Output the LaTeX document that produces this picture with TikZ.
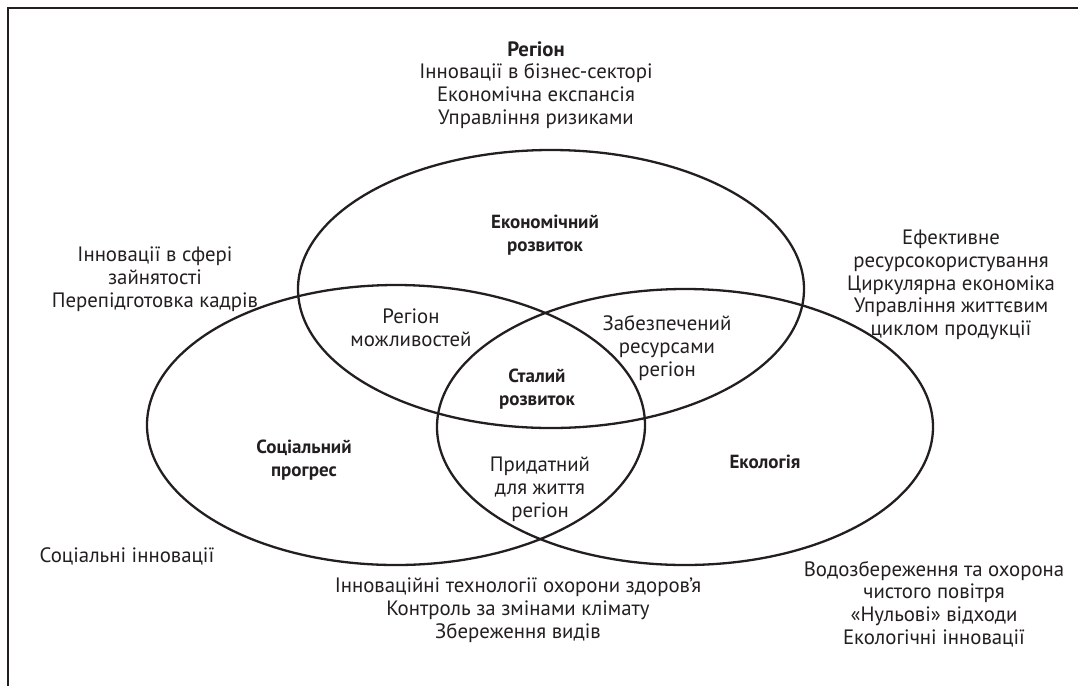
\documentclass[tikz,border=0pt]{standalone}
\usepackage{fontspec}
\setmainfont{PT Sans}
\usetikzlibrary{positioning}
\definecolor{ink}{RGB}{35,31,32}
\tikzset{
  area/.style={draw=ink,line width=2.3pt},
  txt/.style={text=ink,align=center,inner sep=0pt,font=\fontsize{20.8}{22.8}\selectfont},
  head/.style={txt,font=\fontsize{19}{23}\selectfont\bfseries}
}

\begin{document}
\begin{tikzpicture}[x=1pt,y=-1pt]
\useasboundingbox (0,0) rectangle (1078,686);
\draw[ink,line width=2.6pt] (8,686) -- (8,8) -- (1078,8);
% three circles of the diagram
\draw[area] (551,289) ellipse [x radius=253,y radius=139];
\draw[area] (396,425) ellipse [x radius=249,y radius=140];
\draw[area] (685,427) ellipse [x radius=248,y radius=138];
% names of the circles
\node[head] (econ) at (545,235) {Економічний\\розвиток};
\node[head] (social) at (304,460) {Соціальний\\прогрес};
\node[head] (ecol) at (765,462) {Екологія};
\node[head] (core) at (537,389) {Сталий\\розвиток};
% overlaps
\node[txt] (chance) at (411,328) {Регіон\\можливостей};
\node[txt] (supply) at (667,348) {Забезпечений\\ресурсами\\регіон};
\node[txt] (living) at (540,489) {Придатний\\для життя\\регіон};
% outer notes
\node[txt] (region) at (536,85) {\textbf{Регіон}\\Інновації в бізнес-секторі\\Економічна експансія\\Управління ризиками};
\node[txt] (jobs) at (155,279) {Інновації в сфері\\зайнятості\\Перепідготовка кадрів};
\node[txt] (res) at (951,285) {Ефективне\\ресурсокористування\\Циркулярна економіка\\Управління життєвим\\циклом продукції};
\node[txt] (socinn) at (127,556) {Соціальні інновації};
\node[txt] (health) at (518,610) {Інноваційні технології охорони здоров’я\\Контроль за змінами клімату\\Збереження видів};
\node[txt] (water) at (934,604) {Водозбереження та охорона\\чистого повітря\\«Нульові» відходи\\Екологічні інновації};
\end{tikzpicture}
\end{document}
